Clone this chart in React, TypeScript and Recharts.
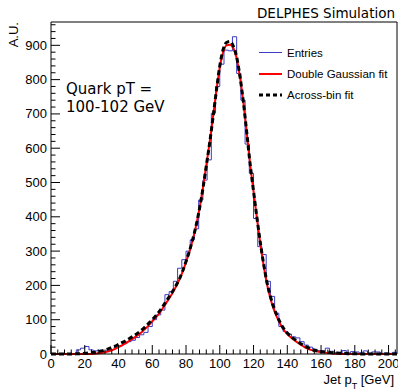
import React from 'react';
import { ComposedChart, Line, XAxis, YAxis, ReferenceLine } from 'recharts';

// ---- data ----
const BIN_WIDTH = 2.5; // GeV
const X_MAX = 205;
const Y_MAX = 968;

// histogram "Entries", 82 bins of 2.5 GeV from 0 to 205
const entries = [
  0, 0, 0, 0, 0, 0, 12, 17, 22, 12,
  9, 11, 8, 9, 13, 20, 24, 30, 36, 40,
  48, 56, 63, 80, 100, 114, 128, 173, 182, 212,
  250, 275, 300, 333, 365, 449, 507, 566, 702, 780,
  845, 886, 884, 925, 818, 740, 612, 527, 395, 313,
  290, 212, 168, 119, 80, 66, 58, 50, 47, 36,
  26, 20, 14, 10, 8, 17, 8, 4, 3, 10,
  3, 7, 6, 3, 9, 2, 6, 6, 2, 3,
  2, 5,
];

// fit curves sampled every 2 GeV from 0 to 204
const FIT_STEP = 2;
const acrossBinFit = [
  0, 0, 0, 0, 0, 0, 0, 0, 1, 1,
  2, 3, 4, 5, 7, 9, 12, 15, 19, 23,
  28, 33, 38, 44, 50, 56, 63, 71, 80, 90,
  100, 111, 123, 137, 152, 167, 182, 199, 218, 242,
  270, 300, 335, 375, 424, 482, 548, 615, 690, 768,
  840, 888, 908, 911, 898, 866, 808, 734, 645, 553,
  475, 398, 326, 262, 208, 168, 136, 111, 90, 73,
  61, 52, 44, 37, 30, 24, 19, 15, 11, 9,
  7, 6, 5, 4, 3, 3, 2, 2, 1, 1,
  1, 0, 0, 0, 0, 0, 0, 0, 0, 0,
  0, 0, 0,
];
const doubleGaussianFit = [
  0, 0, 0, 0, 0, 0, 0, 0, 0, 0,
  0, 0, 0, 1, 2, 3, 5, 8, 11, 15,
  20, 25, 31, 37, 43, 50, 57, 65, 74, 84,
  95, 106, 118, 132, 147, 162, 178, 196, 216, 240,
  268, 298, 334, 375, 425, 484, 550, 617, 692, 768,
  836, 880, 900, 902, 892, 862, 806, 733, 645, 553,
  474, 396, 322, 258, 203, 162, 130, 106, 86, 70,
  58, 49, 41, 34, 27, 21, 16, 12, 9, 7,
  5, 4, 3, 2, 1, 1, 0, 0, 0, 0,
  0, 0, 0, 0, 0, 0, 0, 0, 0, 0,
  0, 0, 0,
];

const xMajorLabels = [0, 20, 40, 60, 80, 100, 120, 140, 160, 180, 200];
const yMajorLabels = [0, 100, 200, 300, 400, 500, 600, 700, 800, 900];
const X_MINOR = 4;
const Y_MINOR = 20;

// ---- derived tables ----
const histData = [
  ...entries.map((v, i) => ({ x: i * BIN_WIDTH, y: v })),
  { x: X_MAX, y: entries[entries.length - 1] },
];
const toCurve = (arr: number[]) => [
  ...arr.map((v, i) => ({ x: i * FIT_STEP, y: v })),
  { x: X_MAX, y: arr[arr.length - 1] },
];
const redData = toCurve(doubleGaussianFit);
const blackData = toCurve(acrossBinFit);

const xTicks: number[] = [];
for (let v = 0; v <= X_MAX; v += X_MINOR) xTicks.push(v);
const yTicks: number[] = [];
for (let v = 0; v <= Y_MAX; v += Y_MINOR) yTicks.push(v);

const TICK_FONT = '"Liberation Sans", Arial, Helvetica, sans-serif';

const XTick = (props: any) => {
  const { x, y, payload } = props;
  const v = payload.value;
  const major = xMajorLabels.includes(v);
  return (
    <g>
      <line x1={x} x2={x} y1={y} y2={y - (major ? 9 : 4.5)} stroke="#000" strokeWidth={1} />
      {major && (
        <text x={x} y={y + 14} textAnchor="middle" fontFamily={TICK_FONT} fontSize={13} fill="#000">
          {v}
        </text>
      )}
    </g>
  );
};

const YTick = (props: any) => {
  const { x, y, payload } = props;
  const v = payload.value;
  const major = yMajorLabels.includes(v);
  return (
    <g>
      <line x1={x} x2={x + (major ? 9 : 4.5)} y1={y} y2={y} stroke="#000" strokeWidth={1} />
      {major && (
        <text x={x - 4} y={y + 4.5} textAnchor="end" fontFamily={TICK_FONT} fontSize={13} fill="#000">
          {v}
        </text>
      )}
    </g>
  );
};

const BLUE = '#3b3bc8';
const RED = '#ff0000';

export default function App() {
  return (
    <div style={{ position: 'absolute', left: 0, top: 0, width: 398, height: 390, background: '#fff' }}>
      <ComposedChart width={398} height={390} margin={{ top: 22, right: 1, left: 0, bottom: 0 }}>
        <XAxis
          dataKey="x"
          type="number"
          domain={[0, X_MAX]}
          ticks={xTicks}
          interval={0}
          height={36}
          tickLine={false}
          tickSize={0}
          tickMargin={0}
          axisLine={{ stroke: '#000', strokeWidth: 1 }}
          tick={(p: any) => <XTick {...p} />}
        />
        <YAxis
          type="number"
          domain={[0, Y_MAX]}
          ticks={yTicks}
          interval={0}
          width={51}
          tickLine={false}
          tickSize={0}
          tickMargin={0}
          axisLine={{ stroke: '#000', strokeWidth: 1 }}
          tick={(p: any) => <YTick {...p} />}
        />
        <ReferenceLine y={Y_MAX} stroke="#000" strokeWidth={1} />
        <ReferenceLine x={X_MAX} stroke="#000" strokeWidth={1} />
        <Line
          data={histData}
          dataKey="y"
          type="stepAfter"
          stroke={BLUE}
          strokeWidth={1}
          dot={false}
          activeDot={false}
          isAnimationActive={false}
        />
        <Line
          data={redData}
          dataKey="y"
          type="monotone"
          stroke={RED}
          strokeWidth={2}
          dot={false}
          activeDot={false}
          isAnimationActive={false}
        />
        <Line
          data={blackData}
          dataKey="y"
          type="monotone"
          stroke="#000"
          strokeWidth={3}
          strokeDasharray="5 3"
          dot={false}
          activeDot={false}
          isAnimationActive={false}
        />
      </ComposedChart>
      <svg
        width={398}
        height={390}
        style={{ position: 'absolute', left: 0, top: 0, pointerEvents: 'none' }}
      >
        <text x={395} y={18} textAnchor="end" fontFamily='"DejaVu Sans", sans-serif' fontSize={13.5} fill="#000">
          DELPHES Simulation
        </text>
        <text
          transform="translate(18,22) rotate(-90)"
          textAnchor="end"
          fontFamily={TICK_FONT}
          fontSize={13}
          fill="#000"
        >
          A.U.
        </text>
        <text x={394} y={384} textAnchor="end" fontFamily={TICK_FONT} fontSize={13} fill="#000">
          <tspan>Jet p</tspan>
          <tspan dy={5} fontSize={9}>T</tspan>
          <tspan dy={-5}> [GeV]</tspan>
        </text>
        <text x={66} y={94} fontFamily='"DejaVu Sans", sans-serif' fontSize={15} fill="#000">
          Quark pT =
        </text>
        <text x={66} y={112} fontFamily='"DejaVu Sans", sans-serif' fontSize={15} fill="#000">
          100-102 GeV
        </text>
        {/* legend */}
        <line x1={259} x2={282} y1={52.5} y2={52.5} stroke={BLUE} strokeWidth={1} />
        <text x={287} y={56.5} fontFamily={TICK_FONT} fontSize={11.5} fill="#000">Entries</text>
        <line x1={259} x2={282} y1={74} y2={74} stroke={RED} strokeWidth={2} />
        <text x={287} y={78} fontFamily={TICK_FONT} fontSize={11.5} fill="#000">Double Gaussian fit</text>
        <line x1={259} x2={282} y1={95} y2={95} stroke="#000" strokeWidth={3} strokeDasharray="4 3" />
        <text x={287} y={99} fontFamily={TICK_FONT} fontSize={11.5} fill="#000">Across-bin fit</text>
      </svg>
    </div>
  );
}
